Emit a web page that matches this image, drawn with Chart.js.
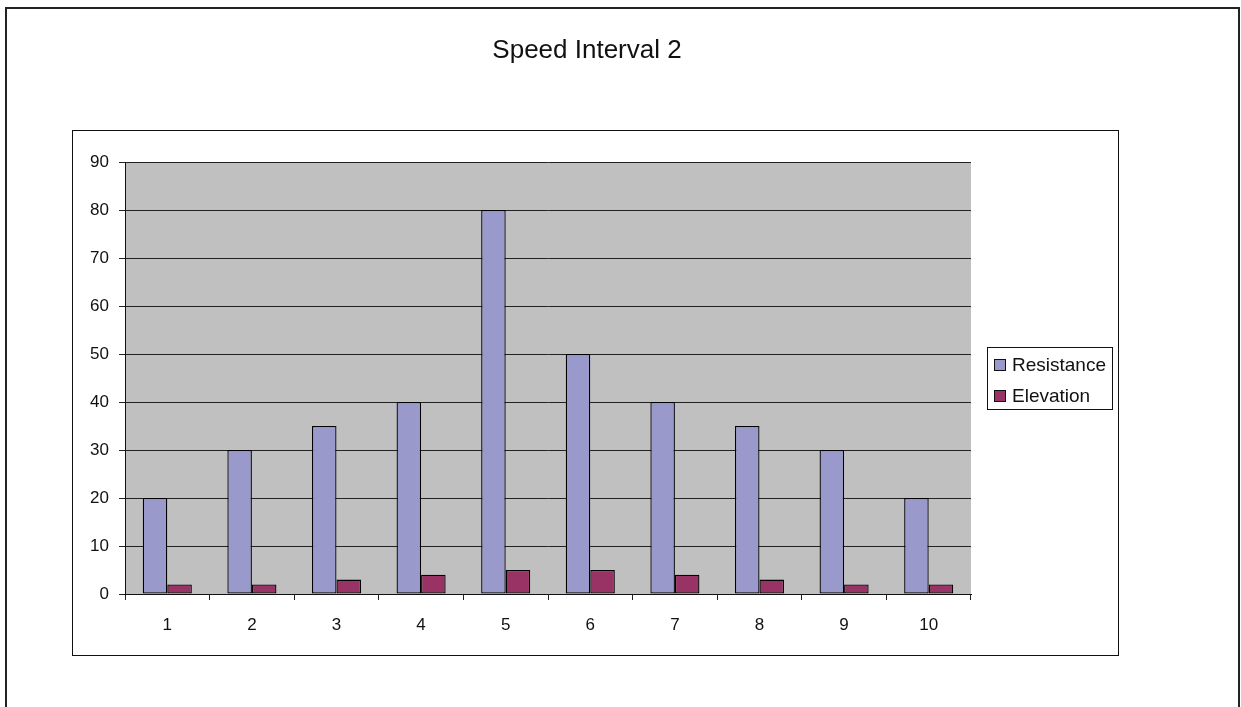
<!DOCTYPE html>
<html>
<head>
<meta charset="utf-8">
<script src="https://cdn.jsdelivr.net/npm/chart.js@4/dist/chart.umd.min.js"></script>
<style>
  html, body { margin: 0; padding: 0; background: #fff; }
  #wrap { width: 1241px; height: 707px; position: relative; }
</style>
</head>
<body>
<div id="wrap"><canvas id="c" width="1241" height="707"></canvas></div>
<script>
// Chart content
const chartTitle = 'Speed Interval 2';
const categories = ['1', '2', '3', '4', '5', '6', '7', '8', '9', '10'];
const resistance = [20, 30, 35, 40, 80, 50, 40, 35, 30, 20];
const elevation = [2, 2, 3, 4, 5, 5, 4, 3, 2, 2];
const seriesNames = ['Resistance', 'Elevation'];
const yTicks = [0, 10, 20, 30, 40, 50, 60, 70, 80, 90];

const FONT = '"Liberation Sans", Arial, sans-serif';

// Frames, plot background, title and legend drawn around the chart
const decorations = {
  id: 'decorations',
  beforeDraw(chart) {
    const ctx = chart.ctx;
    const a = chart.chartArea;
    ctx.save();
    ctx.fillStyle = '#fff';
    ctx.fillRect(0, 0, chart.width, chart.height);
    // outer frame
    ctx.strokeStyle = '#222';
    ctx.lineWidth = 2;
    ctx.strokeRect(6, 8, 1233, 800);
    // plot frame
    ctx.lineWidth = 1;
    ctx.strokeStyle = '#111';
    ctx.strokeRect(72.5, 130.5, 1046, 525);
    // plot background
    ctx.fillStyle = '#C0C0C0';
    ctx.fillRect(a.left, a.top, a.right - a.left, a.bottom - a.top);
    ctx.restore();
  },
  afterDraw(chart) {
    const ctx = chart.ctx;
    ctx.save();
    // title
    ctx.fillStyle = '#111';
    ctx.font = '26px ' + FONT;
    ctx.textAlign = 'center';
    ctx.textBaseline = 'middle';
    ctx.fillText(chartTitle, 587, 51);
    // legend
    ctx.lineWidth = 1;
    ctx.strokeStyle = '#111';
    ctx.strokeRect(987.5, 347.5, 125, 62);
    ctx.font = '19px ' + FONT;
    ctx.textAlign = 'left';
    const rowY = [364.5, 395.5];
    chart.data.datasets.forEach((ds, i) => {
      const y = rowY[i];
      ctx.fillStyle = ds.backgroundColor;
      ctx.fillRect(995, Math.round(y - 5), 10, 10);
      ctx.strokeStyle = '#111';
      ctx.strokeRect(994.5, Math.round(y - 5) - 0.5, 11, 11);
      ctx.fillStyle = '#111';
      ctx.fillText(ds.label, 1012, y + 1);
    });
    ctx.restore();
  }
};

new Chart(document.getElementById('c'), {
  type: 'bar',
  data: {
    labels: categories,
    datasets: [
      {
        label: seriesNames[0],
        data: resistance,
        backgroundColor: '#9999CC',
        borderColor: '#000',
        borderWidth: 1.3,
        borderSkipped: false
      },
      {
        label: seriesNames[1],
        data: elevation,
        backgroundColor: '#993366',
        borderColor: '#000',
        borderWidth: 1.3,
        borderSkipped: false
      }
    ]
  },
  options: {
    responsive: false,
    animation: false,
    devicePixelRatio: 1,
    layout: { padding: { left: 0, top: 162, right: 270, bottom: 0 } },
    datasets: { bar: { categoryPercentage: 0.58, barPercentage: 1.0 } },
    plugins: {
      legend: { display: false },
      title: { display: false },
      tooltip: { enabled: false }
    },
    scales: {
      x: {
        offset: true,
        grid: {
          display: true,
          offset: true,
          drawOnChartArea: false,
          drawTicks: true,
          tickLength: 6,
          color: '#222',
          lineWidth: 1
        },
        border: { display: true, color: '#111', width: 1 },
        ticks: {
          color: '#111',
          font: { family: FONT, size: 17 },
          padding: 15,
          maxRotation: 0
        },
        afterFit(scale) { scale.height = 707 - 594; }
      },
      y: {
        min: 0,
        max: 90,
        afterBuildTicks(scale) { scale.ticks = yTicks.map(v => ({ value: v })); },
        grid: {
          color: '#222',
          lineWidth: 1,
          tickLength: 6,
          drawTicks: true
        },
        border: { display: true, color: '#111', width: 1 },
        ticks: {
          color: '#111',
          font: { family: FONT, size: 17 },
          padding: 10
        },
        afterFit(scale) { scale.width = 125; }
      }
    }
  },
  plugins: [decorations]
});
</script>
</body>
</html>
